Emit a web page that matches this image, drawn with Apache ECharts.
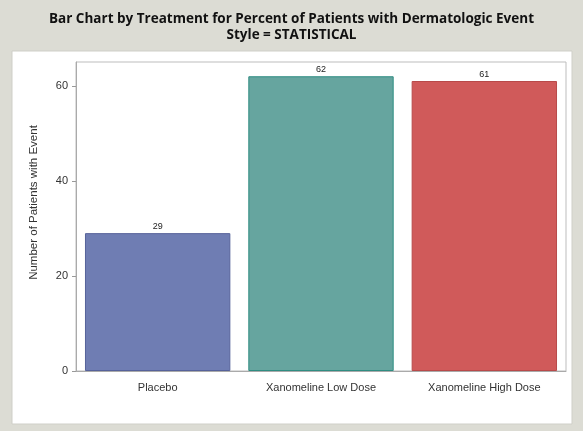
<!DOCTYPE html>
<html><head><meta charset="utf-8">
<script src="https://cdn.jsdelivr.net/npm/echarts@6/dist/echarts.min.js"></script>
<style>html,body{margin:0;padding:0;background:#dcdcd4;}#c{width:583px;height:431px;}</style>
</head><body><div id="c"></div>
<script>
var categories = ["Placebo", "Xanomeline Low Dose", "Xanomeline High Dose"];
var patientCounts = [29, 62, 61];
var barColors = ["#6f7db3", "#66a59f", "#d05a5a"];
var borderColors = ["#56629a", "#2f8d82", "#b84a4a"];
var yTicks = [0, 20, 40, 60];

var chart = echarts.init(document.getElementById('c'));
chart.setOption({
  backgroundColor: '#dcdcd4',
  animation: false,
  graphic: [{
    type: 'rect', z: -10, silent: true,
    shape: { x: 12, y: 51, width: 560, height: 373 },
    style: { fill: '#ffffff', stroke: '#cfcfc8' }
  }],
  title: {
    text: 'Bar Chart by Treatment for Percent of Patients with Dermatologic Event\nStyle = STATISTICAL',
    left: 'center', top: 6,
    textStyle: { fontFamily: 'Open Sans', fontWeight: 'bold', fontSize: 13.5, color: '#111', lineHeight: 16 }
  },
  grid: { left: 76, right: 17, top: 62, bottom: 60, show: true, borderColor: '#bdbdbd', borderWidth: 1, backgroundColor: 'transparent' },
  xAxis: {
    type: 'category', data: categories,
    axisLine: { lineStyle: { color: '#aaa' } },
    axisTick: { alignWithLabel: true, length: 4, lineStyle: { color: '#aaa' } },
    axisLabel: { color: '#333', fontSize: 11, fontFamily: 'Liberation Sans', margin: 11 }
  },
  yAxis: {
    type: 'value', min: 0, max: 65, interval: 20,
    name: 'Number of Patients with Event', nameLocation: 'middle', nameGap: 36,
    nameTextStyle: { color: '#333', fontSize: 11.5, fontFamily: 'Liberation Sans', padding: [0, 0, 0, 28] },
    axisLine: { show: true, lineStyle: { color: '#aaa' } },
    axisTick: { show: true, length: 4, lineStyle: { color: '#999' }, customValues: yTicks },
    splitLine: { show: false },
    axisLabel: { color: '#333', fontSize: 11, fontFamily: 'Liberation Sans', margin: 8, customValues: yTicks }
  },
  series: [{
    type: 'bar', barWidth: '89%',
    data: patientCounts.map(function (v, i) {
      return { value: v, itemStyle: { color: barColors[i], borderColor: borderColors[i], borderWidth: 1 } };
    }),
    label: { show: true, position: 'top', distance: 2, color: '#222', fontSize: 9, fontFamily: 'Liberation Sans' }
  }]
});
</script></body></html>
